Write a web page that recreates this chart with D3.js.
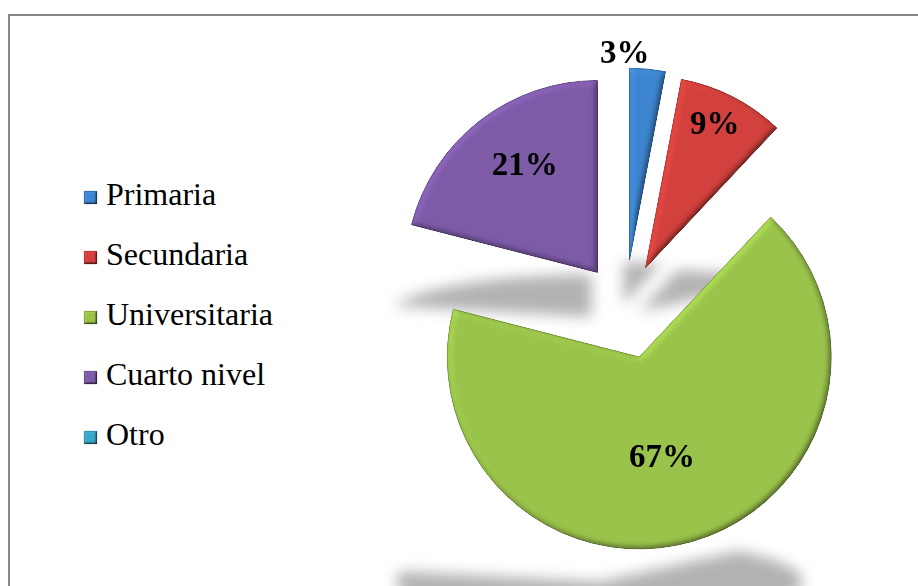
<!DOCTYPE html>
<html>
<head>
<meta charset="utf-8">
<script src="https://cdn.jsdelivr.net/npm/d3@7/dist/d3.min.js"></script>
<style>
  html, body { margin: 0; padding: 0; background: #fff; }
  svg { display: block; }
  .serif { font-family: "Liberation Serif", "Times New Roman", Times, "DejaVu Serif", serif; }
</style>
</head>
<body>
<svg id="chart" width="918" height="586"></svg>
<script>
// Nivel de instrucción — distribución porcentual
const categories = ["Primaria", "Secundaria", "Universitaria", "Cuarto nivel", "Otro"];
const values = [3, 9, 67, 21, 0];
const colors = ["#3d85cf", "#d3413d", "#9bc44b", "#7e5ba8", "#3aa9c6"];
const strokes = ["#2f6aa6", "#a8332f", "#78993a", "#634587", "#2d87a0"];

// Layout
const W = 918, H = 586;
const cx = 625, cy = 308, R = 192;
const explode = [48, 45, 51, 45, 0];
const labelFrac = [1.087, 0.84, 0.53, 0.68, 0];   // distance from wedge apex, in radii
const labelTurn = [-6.7, -1.5, 3.3, 4, 0];        // degrees off the wedge bisector
const shadowShift = [-6, -6, -40, -6, 0];
const shadowScaleX = 1.06, shadowScaleY = 0.22;

const svg = d3.select("#chart");
const defs = svg.append("defs");

// Soft bevel: lighting over blurred alpha, multiplied back into the fill
function bevel(id, blur, scale) {
  const f = defs.append("filter").attr("id", id)
    .attr("x", "-10%").attr("y", "-10%").attr("width", "120%").attr("height", "120%")
    .attr("color-interpolation-filters", "sRGB");
  f.append("feGaussianBlur").attr("in", "SourceAlpha").attr("stdDeviation", blur).attr("result", "b");
  const l = f.append("feDiffuseLighting").attr("in", "b").attr("surfaceScale", scale)
    .attr("diffuseConstant", 1).attr("lighting-color", "#fff").attr("result", "lit");
  l.append("feDistantLight").attr("azimuth", 225).attr("elevation", 65);
  f.append("feComposite").attr("in", "SourceGraphic").attr("in2", "lit")
    .attr("operator", "arithmetic").attr("k1", 1.1).attr("k2", 0).attr("k3", 0).attr("k4", 0)
    .attr("result", "shaded");
  f.append("feComposite").attr("in", "shaded").attr("in2", "SourceAlpha").attr("operator", "in");
}
bevel("bevel", 3, 2.5);
bevel("bevelSmall", 1.2, 2);

const blur = defs.append("filter").attr("id", "shadowBlur")
  .attr("x", "-20%").attr("y", "-80%").attr("width", "140%").attr("height", "260%");
blur.append("feGaussianBlur").attr("stdDeviation", 7);

// Frame
svg.append("rect").attr("x", 0).attr("y", 0).attr("width", W).attr("height", H).attr("fill", "#fff");
svg.append("rect")
  .attr("x", 9).attr("y", 15).attr("width", W + 20).attr("height", H + 20)
  .attr("fill", "none").attr("stroke", "#878787").attr("stroke-width", 2);

const pie = d3.pie().sort(null).value(d => d);
const arcs = pie(values);
const arc = d3.arc().innerRadius(0).outerRadius(R);
const rad = Math.PI / 180;

const slices = arcs.map((a, i) => {
  const mid = (a.startAngle + a.endAngle) / 2;
  const ox = cx + Math.sin(mid) * explode[i];
  const oy = cy - Math.cos(mid) * explode[i];
  // vertical extent of the wedge relative to its apex
  let top = 0, bottom = 0;
  for (let k = 0; k <= 60; k++) {
    const t = a.startAngle + (a.endAngle - a.startAngle) * k / 60;
    const y = -Math.cos(t) * R;
    top = Math.min(top, y); bottom = Math.max(bottom, y);
  }
  return { a, i, mid, ox, oy, top, bottom };
}).filter(s => s.a.value > 0);

// Floor shadows
const shadows = svg.append("g").attr("filter", "url(#shadowBlur)");
slices.forEach(s => {
  const baseY = s.oy + s.bottom + 2;
  shadows.append("path")
    .attr("d", arc(s.a))
    .attr("fill", "#b2b2b2")
    .attr("transform",
      `translate(${s.ox + shadowShift[s.i]},${baseY}) scale(${shadowScaleX},${shadowScaleY}) translate(0,${-s.top})`);
});

// Wedges
const wedges = svg.append("g");
slices.forEach(s => {
  wedges.append("path")
    .attr("d", arc(s.a))
    .attr("transform", `translate(${s.ox},${s.oy})`)
    .attr("fill", colors[s.i])
    .attr("stroke", strokes[s.i])
    .attr("stroke-width", 1)
    .attr("stroke-linejoin", "round")
    .attr("filter", "url(#bevel)");
});

// Percentage labels
const labels = svg.append("g")
  .attr("class", "serif")
  .attr("font-weight", "bold").attr("font-size", 33).attr("fill", "#000")
  .attr("text-anchor", "middle");
slices.forEach(s => {
  const f = labelFrac[s.i];
  const ang = s.mid + labelTurn[s.i] * rad;
  labels.append("text")
    .attr("x", s.ox + Math.sin(ang) * f * R)
    .attr("y", s.oy - Math.cos(ang) * f * R)
    .attr("dy", "0.34em")
    .text(values[s.i] + "%");
});

// Legend
const legend = svg.append("g").attr("transform", "translate(84,191)");
categories.forEach((c, i) => {
  const g = legend.append("g").attr("transform", `translate(0,${i * 60})`);
  g.append("rect").attr("width", 13).attr("height", 13)
    .attr("fill", colors[i]).attr("stroke", strokes[i]).attr("stroke-width", 0.6)
    .attr("filter", "url(#bevelSmall)");
  g.append("text").attr("class", "serif").attr("x", 22).attr("y", 14)
    .attr("font-size", 32).attr("fill", "#000")
    .text(c);
});
</script>
</body>
</html>
